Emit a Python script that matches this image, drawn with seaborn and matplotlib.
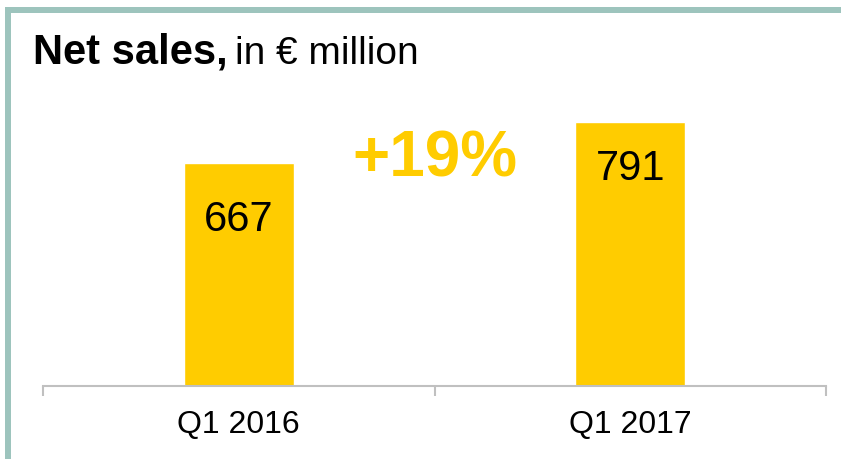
import matplotlib
matplotlib.use("Agg")
import matplotlib.pyplot as plt
import seaborn as sns
import pandas as pd
from matplotlib.patches import Rectangle

categories = ["Q1 2016", "Q1 2017"]
net_sales = [667, 791]

sns.set_theme(style="white")
plt.rcParams['font.family'] = ['Liberation Sans', 'DejaVu Sans']

W, H = 841, 459
fig = plt.figure(figsize=(W / 100, H / 100), dpi=100)
fig.patch.set_facecolor("white")

ax = fig.add_axes([43 / W, (H - 386) / H, (826 - 43) / W, 284.2 / H])
df = pd.DataFrame({"period": categories, "sales": net_sales})
sns.barplot(data=df, x="period", y="sales", color="#FFCC00", saturation=1,
            width=0.28, ax=ax)
ax.set_xlim(-0.5, 1.5)
ax.set_ylim(0, 850)
ax.set_xlabel("")
ax.set_ylabel("")
ax.set_yticks([])
for s in ["top", "right", "left"]:
    ax.spines[s].set_visible(False)
ax.spines["bottom"].set_color("#C0C0C0")
ax.spines["bottom"].set_linewidth(1.5)
ax.set_xticks([0, 1], categories)
ax.set_xticks([-0.5, 0.5, 1.5], minor=True)
ax.tick_params(axis="x", which="major", length=0, pad=17, labelsize=23, labelcolor="black")
ax.tick_params(axis="x", which="minor", length=7, width=1.5, color="#C0C0C0", bottom=True)
ax.patch.set_alpha(0)

label_offsets = [-41, -34]
for i, v in enumerate(net_sales):
    ax.annotate(f"{v}", xy=(i, v), xytext=(0, label_offsets[i]), textcoords="offset points",
                ha="center", va="center", fontsize=30, color="black")

growth = round((net_sales[1] / net_sales[0] - 1) * 100)
ax.text(0.5, 676, f"+{growth}%", ha="center", va="center", fontsize=46,
        fontweight="bold", color="#FFCC00")

# Title
t1 = fig.text(33 / W, (H - 64) / H, "Net sales,", fontsize=30, fontweight="bold",
              ha="left", va="baseline", color="black")
fig.canvas.draw()
bb = t1.get_window_extent()
fig.text((bb.x1 + 7) / W, (H - 64) / H, "in € million", fontsize=28,
         ha="left", va="baseline", color="black")

# Frame bands
border = "#9DC4BD"
fig.add_artist(Rectangle((5 / W, 0), 6 / W, (H - 7) / H, transform=fig.transFigure,
                         facecolor=border, edgecolor="none"))
fig.add_artist(Rectangle((5 / W, (H - 13) / H), (W - 5) / W, 6 / H, transform=fig.transFigure,
                         facecolor=border, edgecolor="none"))

fig.savefig("out.png", dpi=100)
